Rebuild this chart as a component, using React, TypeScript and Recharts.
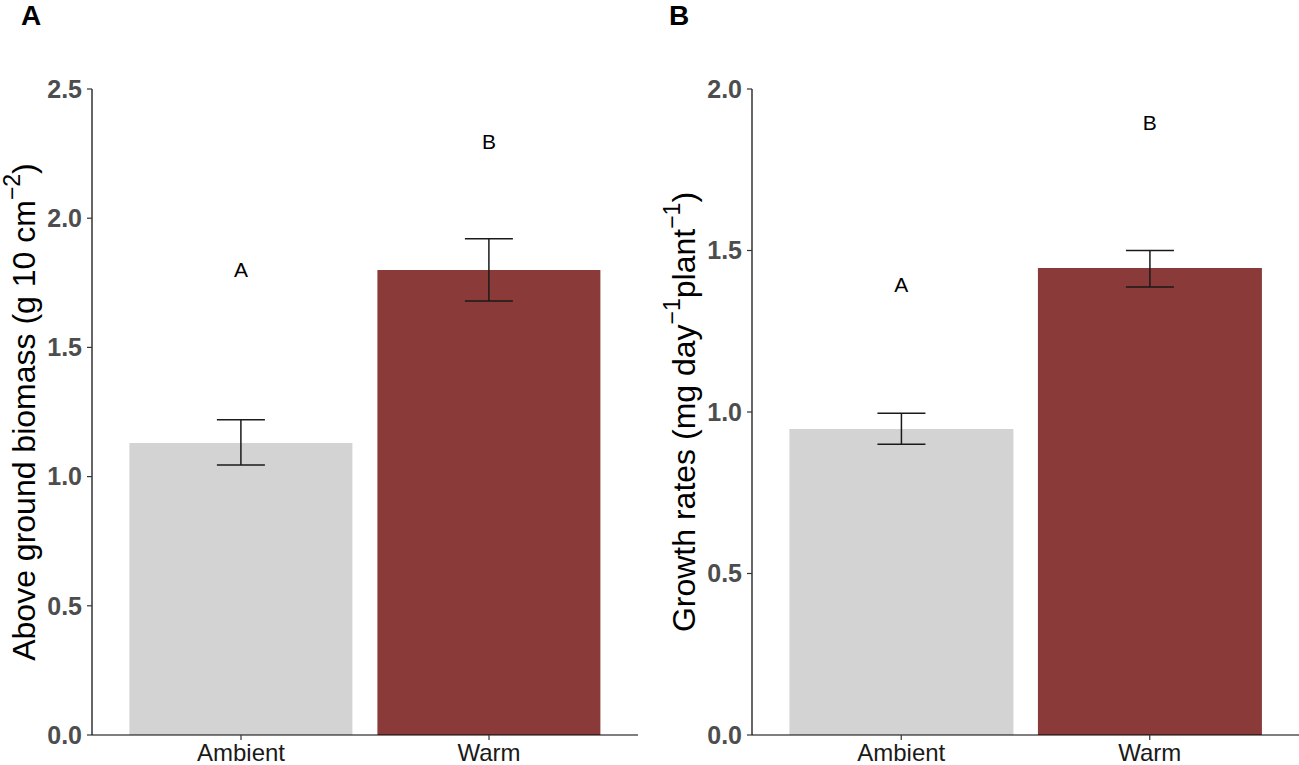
import React from "react"
import { BarChart, Bar, XAxis, YAxis, Cell, ErrorBar, ReferenceDot } from "recharts"

// treatment groups
const categories = ["Ambient", "Warm"]
const barColors = ["#d3d3d3", "#8b3a3a"]
const groupLetters = ["A", "B"]

// panel A: above ground biomass (g 10 cm^-2)
const biomassMean = [1.13, 1.8]
const biomassLow = [1.045, 1.68]
const biomassHigh = [1.22, 1.92]
const biomassLetterY = [1.8, 2.295]
const biomassTicks = [0, 0.5, 1, 1.5, 2, 2.5]

// panel B: growth rates (mg day^-1 plant^-1)
const growthMean = [0.947, 1.446]
const growthLow = [0.9, 1.387]
const growthHigh = [0.996, 1.5]
const growthLetterY = [1.395, 1.896]
const growthTicks = [0, 0.5, 1, 1.5, 2]

const FONT = "'Liberation Sans', Arial, Helvetica, sans-serif"

const buildRows = (mean: number[], low: number[], high: number[]) =>
  categories.map((name, i) => ({
    name,
    value: mean[i],
    err: [mean[i] - low[i], high[i] - mean[i]],
  }))

type TitlePart = { text: string; sup?: boolean }

function YTitle(props: any) {
  const { viewBox, baseX, parts } = props
  const vb = viewBox ?? { y: 89, height: 646 }
  const cy = vb.y + vb.height / 2
  const nodes: React.ReactNode[] = []
  let raised = false
  parts.forEach((p: TitlePart, i: number) => {
    let dy = 0
    if (p.sup && !raised) {
      dy = -15
      raised = true
    } else if (!p.sup && raised) {
      dy = 15
      raised = false
    }
    nodes.push(
      <tspan key={i} dy={dy} fontSize={p.sup ? 23 : 32}>
        {p.text}
      </tspan>,
    )
  })
  return (
    <text
      x={baseX}
      y={cy}
      transform={`rotate(-90, ${baseX}, ${cy})`}
      textAnchor="middle"
      fontFamily={FONT}
      fontSize={32}
      fill="#000"
    >
      {nodes}
    </text>
  )
}

interface PanelProps {
  rows: { name: string; value: number; err: number[] }[]
  letterY: number[]
  ticks: number[]
  domainMax: number
  width: number
  axisWidth: number
  rightMargin: number
  title: TitlePart[]
}

function Panel({ rows, letterY, ticks, domainMax, width, axisWidth, rightMargin, title }: PanelProps) {
  return (
    <BarChart
      width={width}
      height={765}
      data={rows}
      margin={{ top: 89, right: rightMargin, bottom: 0, left: 0 }}
      barCategoryGap="5%"
    >
      <XAxis
        dataKey="name"
        height={30}
        padding={{ left: 25, right: 25 }}
        axisLine={{ stroke: "#000", strokeWidth: 1.2 }}
        tickLine={{ stroke: "#333", strokeWidth: 1.2 }}
        tickSize={5}
        tickMargin={4}
        tick={{ fontFamily: FONT, fontSize: 24, fill: "#1a1a1a" }}
      />
      <YAxis
        width={axisWidth}
        domain={[0, domainMax]}
        ticks={ticks}
        interval={0}
        tickFormatter={(v: number) => v.toFixed(1)}
        axisLine={{ stroke: "#000", strokeWidth: 1.2 }}
        tickLine={{ stroke: "#333", strokeWidth: 1.2 }}
        tickSize={5}
        tickMargin={5}
        tick={{ fontFamily: FONT, fontSize: 25, fontWeight: "bold", fill: "#4d4d4d" }}
        label={{
          content: (p: any) => <YTitle {...p} baseX={axisWidth - 57} parts={title} />,
        }}
      />
      <Bar dataKey="value" isAnimationActive={false}>
        {rows.map((r, i) => (
          <Cell key={r.name} fill={barColors[i]} />
        ))}
        <ErrorBar
          dataKey="err"
          direction="y"
          width={24}
          stroke="#1a1a1a"
          strokeWidth={1.5}
          isAnimationActive={false}
        />
      </Bar>
      {rows.map((r, i) => (
        <ReferenceDot
          key={"letter-" + r.name}
          x={r.name}
          y={letterY[i]}
          r={0}
          fill="none"
          stroke="none"
          label={{
            value: groupLetters[i],
            position: "center",
            fontFamily: FONT,
            fontSize: 21,
            fill: "#000",
          }}
        />
      ))}
    </BarChart>
  )
}

const panelLabelStyle: React.CSSProperties = {
  position: "absolute",
  top: 2,
  fontFamily: FONT,
  fontWeight: "bold",
  fontSize: 28,
  lineHeight: "28px",
  color: "#000",
}

export default function App() {
  const biomassRows = buildRows(biomassMean, biomassLow, biomassHigh)
  const growthRows = buildRows(growthMean, growthLow, growthHigh)

  return (
    <div
      style={{
        position: "absolute",
        left: 0,
        top: 0,
        width: 1299,
        height: 765,
        background: "#fff",
        fontFamily: FONT,
        overflow: "hidden",
      }}
    >
      <div style={{ position: "absolute", left: 0, top: 0 }}>
        <Panel
          rows={biomassRows}
          letterY={biomassLetterY}
          ticks={biomassTicks}
          domainMax={2.5}
          width={650}
          axisWidth={92}
          rightMargin={12}
          title={[{ text: "Above ground biomass (g 10 cm" }, { text: "\u22122", sup: true }, { text: ")" }]}
        />
      </div>
      <div style={{ position: "absolute", left: 650, top: 0 }}>
        <Panel
          rows={growthRows}
          letterY={growthLetterY}
          ticks={growthTicks}
          domainMax={2}
          width={649}
          axisWidth={102}
          rightMargin={0}
          title={[
            { text: "Growth rates (mg day" },
            { text: "\u22121", sup: true },
            { text: "plant" },
            { text: "\u22121", sup: true },
            { text: ")" },
          ]}
        />
      </div>
      <div style={{ ...panelLabelStyle, left: 21 }}>A</div>
      <div style={{ ...panelLabelStyle, left: 669 }}>B</div>
    </div>
  )
}
